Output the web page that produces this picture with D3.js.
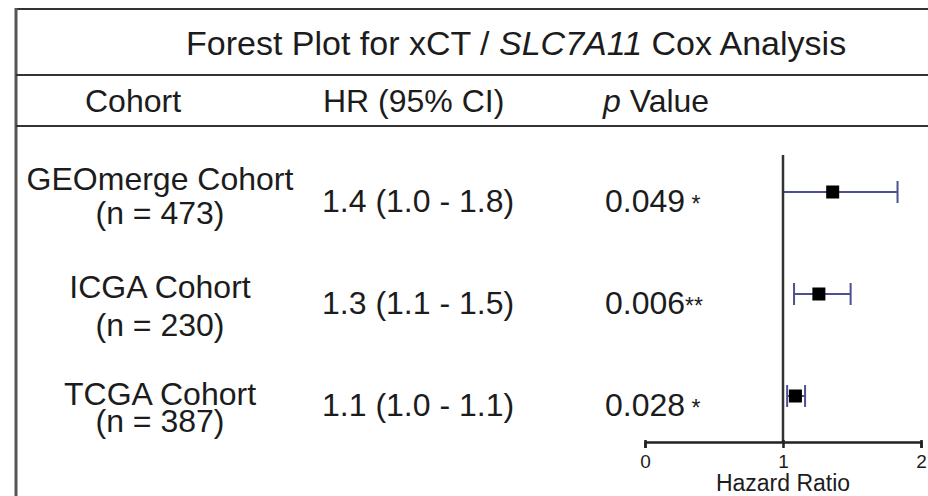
<!DOCTYPE html>
<html>
<head>
<meta charset="utf-8">
<script src="https://cdn.jsdelivr.net/npm/d3@7"></script>
<style>
  body { margin: 0; background: #fff; }
  svg { display: block; font-family: "Liberation Sans", Arial, sans-serif; }
</style>
</head>
<body>
<div id="forest"></div>
<script>
// data
const cohorts = ["GEOmerge Cohort", "ICGA Cohort", "TCGA Cohort"]
const sampleSizes = [473, 230, 387]
const hr = [1.36, 1.26, 1.09]
const ciLow = [1.0, 1.08, 1.03]
const ciHigh = [1.83, 1.49, 1.16]
const hrLabels = ["1.4 (1.0 - 1.8)", "1.3 (1.1 - 1.5)", "1.1 (1.0 - 1.1)"]
const pValues = ["0.049", "0.006", "0.028"]
const pStars = [" *", "**", " *"]
const xTicks = [0, 1, 2]

const width = 928
const height = 496
const textColor = "#1c1c1c"
const barColor = "#4b5190"

const svg = d3.select("#forest")
    .append("svg")
    .attr("width", width)
    .attr("height", height)

// frame : top line, left line, row separators
const frame = svg.append("g").attr("stroke-width", 2)
frame.append("line").attr("x1", 16).attr("x2", width).attr("y1", 9).attr("y2", 9).attr("stroke", "#333")
frame.append("line").attr("x1", 16).attr("x2", 16).attr("y1", 8).attr("y2", height).attr("stroke", "#555").attr("stroke-width", 3)
frame.append("line").attr("x1", 16).attr("x2", width).attr("y1", 75).attr("y2", 75).attr("stroke", "#333")
frame.append("line").attr("x1", 16).attr("x2", width).attr("y1", 126).attr("y2", 126).attr("stroke", "#333")

// title
const title = svg.append("text")
    .attr("x", 186)
    .attr("y", 55)
    .attr("font-size", 34)
    .attr("fill", textColor)
title.append("tspan").text("Forest Plot for xCT / ")
title.append("tspan").attr("font-style", "italic").text("SLC7A11")
title.append("tspan").text(" Cox Analysis")

// column headers
svg.append("text").attr("x", 85).attr("y", 112).attr("font-size", 32).attr("fill", textColor).text("Cohort")
svg.append("text").attr("x", 323).attr("y", 112).attr("font-size", 32).attr("fill", textColor).text("HR (95% CI)")
const pHead = svg.append("text").attr("x", 603).attr("y", 112).attr("font-size", 32).attr("fill", textColor)
pHead.append("tspan").attr("font-style", "italic").text("p")
pHead.append("tspan").text(" Value")

// scales
const x = d3.scaleLinear()
    .domain([0, 2])
    .range([645, 921])

const y = d3.scalePoint()
    .domain(cohorts)
    .range([192, 396])

// gap between the two lines of the cohort label (the last one is squeezed)
const labelGap = [34, 38, 27]
const labelShift = [-2, 4, 9]

const rows = svg.append("g")
    .selectAll("g")
    .data(cohorts)
    .join("g")

const label = rows.append("text")
    .attr("text-anchor", "middle")
    .attr("font-size", 32)
    .attr("fill", textColor)
label.append("tspan")
    .attr("x", 160)
    .attr("y", (d, i) => y(d) + labelShift[i])
    .text(d => d)
label.append("tspan")
    .attr("x", 160)
    .attr("y", (d, i) => y(d) + labelShift[i] + labelGap[i])
    .text((d, i) => "(n = " + sampleSizes[i] + ")")

rows.append("text")
    .attr("x", 322)
    .attr("y", d => y(d) + 20)
    .attr("font-size", 32)
    .attr("fill", textColor)
    .text((d, i) => hrLabels[i])

const pText = rows.append("text")
    .attr("x", 605)
    .attr("y", d => y(d) + 20)
    .attr("font-size", 32)
    .attr("fill", textColor)
pText.append("tspan").text((d, i) => pValues[i])
pText.append("tspan").attr("font-size", 23).style("white-space", "pre").text((d, i) => pStars[i])

// error bars
const bars = svg.append("g")
    .attr("stroke", barColor)
    .attr("stroke-width", 2)
    .selectAll("g")
    .data(cohorts)
    .join("g")

bars.append("line")
    .attr("x1", (d, i) => x(ciLow[i]))
    .attr("x2", (d, i) => x(ciHigh[i]))
    .attr("y1", d => y(d))
    .attr("y2", d => y(d))
bars.append("line")
    .attr("x1", (d, i) => x(ciLow[i]))
    .attr("x2", (d, i) => x(ciLow[i]))
    .attr("y1", d => y(d) - 11)
    .attr("y2", d => y(d) + 11)
bars.append("line")
    .attr("x1", (d, i) => x(ciHigh[i]))
    .attr("x2", (d, i) => x(ciHigh[i]))
    .attr("y1", d => y(d) - 11)
    .attr("y2", d => y(d) + 11)

// reference line at HR = 1
svg.append("line")
    .attr("x1", x(1))
    .attr("x2", x(1))
    .attr("y1", 155)
    .attr("y2", 442)
    .attr("stroke", "#333")
    .attr("stroke-width", 2.5)

// squares for HR
svg.append("g")
    .selectAll("rect")
    .data(cohorts)
    .join("rect")
    .attr("x", (d, i) => x(hr[i]) - 6.5)
    .attr("y", d => y(d) - 6.5)
    .attr("width", 13)
    .attr("height", 13)
    .attr("fill", "#000")

// x axis
const axis = svg.append("g")
    .attr("transform", "translate(0,442)")
    .call(d3.axisBottom(x).tickValues(xTicks).tickFormat(d3.format("d")).tickSizeOuter(0).tickSize(6))
axis.select(".domain").attr("stroke", "#222").attr("stroke-width", 2.5)
axis.selectAll(".tick line").attr("stroke", "#222").attr("stroke-width", 2.5).attr("y1", -2)
axis.selectAll(".tick text")
    .style("font-size", "19px")
    .style("font-family", "Liberation Sans, Arial, sans-serif")
    .attr("fill", textColor)
    .attr("dy", null)
    .attr("y", 26)

svg.append("text")
    .attr("x", x(1))
    .attr("y", 491)
    .attr("text-anchor", "middle")
    .attr("font-size", 23)
    .attr("fill", textColor)
    .text("Hazard Ratio")
</script>
</body>
</html>
